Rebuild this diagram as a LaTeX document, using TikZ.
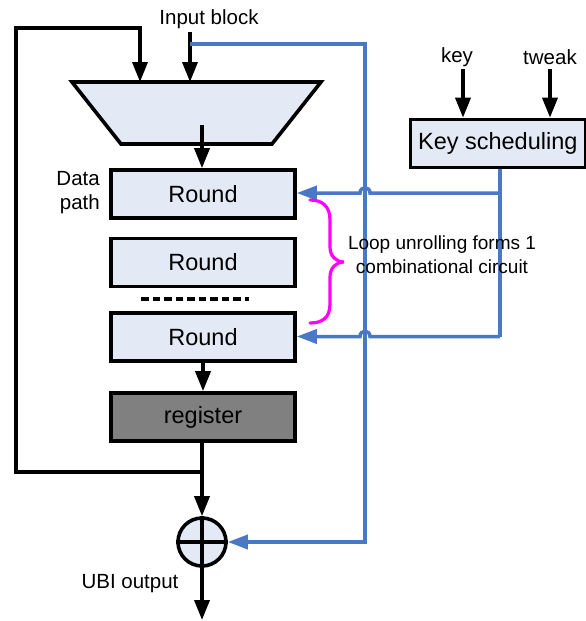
\documentclass[tikz,border=0pt]{standalone}
\usepackage{fontspec}
\setmainfont{Liberation Sans}
\usetikzlibrary{arrows.meta,calc}
\definecolor{fillb}{HTML}{E4EAF5}
\definecolor{lineb}{HTML}{4A78C2}
\definecolor{regg}{HTML}{808080}
\definecolor{brc}{HTML}{FF00FF}
\begin{document}
\begin{tikzpicture}[x=1pt,y=-1pt,
  blk/.style={draw=black,line width=3.6pt,fill=fillb,minimum width=184pt,minimum height=48pt,inner sep=0pt,font=\fontsize{23.5}{27}\selectfont},
  bla/.style={draw=black,line width=3.6pt,-{Triangle[width=15pt,length=20pt]}},
  bln/.style={draw=black,line width=3.6pt},
  bu/.style={draw=lineb,line width=3.5pt},
  bua/.style={bu,-{Triangle[width=14pt,length=20pt]}},
  lbl/.style={font=\fontsize{20.5}{24}\selectfont,inner sep=0pt}]
\useasboundingbox (0,0) rectangle (586,621);

% blocks
\draw[line width=3.6pt,fill=fillb] (72,82) -- (321,82) -- (272,144) -- (121,144) -- cycle;
\coordinate (mA) at (140,82);
\coordinate (mB) at (190,82);
\coordinate (mC) at (202,125);
\node[blk] (r1) at (203,194) {Round};
\node[blk] (r2) at (203,262.5) {Round};
\node[blk] (r3) at (203,337) {Round};
\node[blk,fill=regg] (reg) at (203,417) {register};
\node[draw=black,line width=3.6pt,fill=fillb,circle,minimum size=48pt,inner sep=0pt] (x) at (202,542) {};
\draw[line width=3.6pt] (x.north) -- (x.south) (x.west) -- (x.east);
\node[blk,minimum width=175pt,anchor=west] (ks) at (408.5,143.5) {Key scheduling};

% labels
\node[lbl] (lin) at (209,19) {Input block};
\node[lbl] (lkey) at (457,57) {key};
\node[lbl] (ltw) at (550,57) {tweak};
\node[lbl,align=right,anchor=east] (ldp) at (100,193) {Data\\path};
\node[lbl] (lubi) at (130,584) {UBI output};

% black connectors
\coordinate (inS) at (190,32);
\coordinate (inB) at (190,44);
\draw[bla] (inS) -- (mB);
\coordinate (kS) at (463,69);
\coordinate (tS) at (550,69);
\draw[bla] (kS) -- (kS |- ks.north);
\draw[bla] (tS) -- (tS |- ks.north);
\draw[bla] (mC) -- (mC |- r1.north);
\draw[bla] (r3.south) -- (reg.north);
\coordinate (j) at (202,472);
\coordinate (lb) at (16,472);
\coordinate (lt) at (16,28);
\coordinate (at) at (140,28);
\draw[bln,line join=miter] (j) -- (lb) -- (lt) -- (at) -- ++(0,2);
\draw[bla] (at) -- (mA);
\draw[bla] (reg.south -| x.north) -- (x.north);
\coordinate (out) at (202,620);
\draw[bla] (x.south) -- (out);

% dashes
\coordinate (d1) at (141,299);
\coordinate (d2) at (249,299);
\draw[line width=3.6pt,dash pattern=on 7.5pt off 4pt] (d1) -- (d2);

% blue connectors
\coordinate (bt) at (365,44);
\coordinate (bb) at (365,542);
\draw[bua,line join=miter] (inB) -- (bt) -- (bb) -- (x.east);
\coordinate (k1) at (500,193);
\coordinate (k2) at (500,336.5);
\draw[bu,line join=miter] (ks.south -| k1) -- (k2);
\draw[bua] (k1) -- (370,193) .. controls (370,186) and (360,186) .. (360,193) -- (r1.east |- k1);
\draw[bua] (k2) -- (370,336.5) .. controls (370,329.5) and (360,329.5) .. (360,336.5) -- (r3.east |- k2);

% brace
\coordinate (b1) at (310,200);
\coordinate (b2) at (310,323);
\coordinate (btip) at (344,262);
\draw[brc,line width=3.2pt,line cap=round]
  (b1) .. controls (322,200) and (330,206) .. (330,220)
  -- (330,247) .. controls (330,256) and (336,262) .. (btip)
  .. controls (336,262) and (330,268) .. (330,277)
  -- (330,304) .. controls (330,318) and (322,323) .. (b2);
\node[lbl,align=center,font=\fontsize{19}{24}\selectfont] (loop) at (442,255) {Loop unrolling forms 1\\combinational circuit};
\end{tikzpicture}
\end{document}
